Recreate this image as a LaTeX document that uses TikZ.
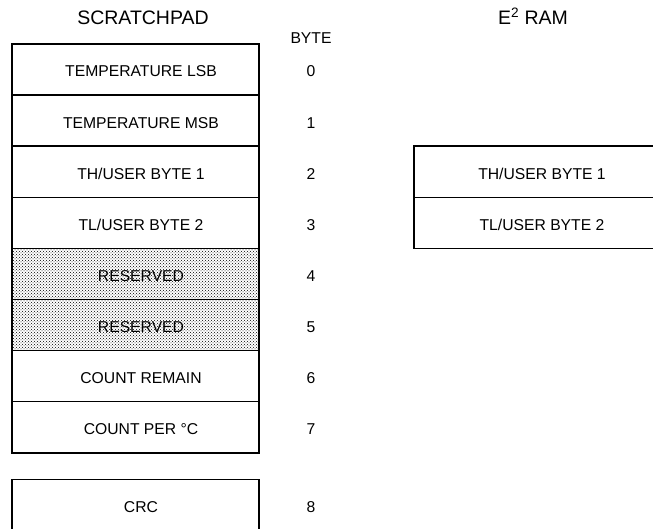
\documentclass[tikz,border=0pt]{standalone}
\usepackage{fontspec}
\setmainfont{Liberation Sans}
\usetikzlibrary{patterns}
\tikzset{
  cell/.style={draw=black, line width=1.4pt, minimum width=247pt, minimum height=51.1pt, inner sep=0pt, outer sep=0pt, anchor=north west},
  shaded/.style={cell, pattern=crosshatch dots, pattern color=black},
  lbl/.style={font=\fontsize{15.7}{18}\selectfont, anchor=base, inner sep=0pt},
  ttl/.style={font=\fontsize{19.5}{22}\selectfont, anchor=base, inner sep=0pt},
}
\begin{document}
\begin{tikzpicture}[x=1pt,y=-1pt]
\useasboundingbox (0,0) rectangle (653,529);
\clip (0,0) rectangle (653,529);
% titles
\node[ttl] (tsp) at (143,25) {SCRATCHPAD};
\node[ttl] (tee) at (533,25) {E\textsuperscript{2} RAM};
\node[lbl] (tby) at (311,43.3) {BYTE};
% scratchpad cells
\node[cell]   (r0) at (12,44.0)  {};
\node[cell]   (r1) at (12,95.1)  {};
\node[cell]   (r2) at (12,146.2) {};
\node[cell]   (r3) at (12,197.3) {};
\node[shaded] (r4) at (12,248.4) {};
\node[shaded] (r5) at (12,299.5) {};
\node[cell]   (r6) at (12,350.6) {};
\node[cell]   (r7) at (12,401.7) {};
\node[cell]   (r8) at (12,479.5) {};
% labels
\node[lbl] (l0) at (141,77.0)  {TEMPERATURE LSB};
\node[lbl] (l1) at (141,128.1) {TEMPERATURE MSB};
\node[lbl] (l2) at (141,179.2) {TH/USER BYTE 1};
\node[lbl] (l3) at (141,230.3) {TL/USER BYTE 2};
\node[lbl] (l4) at (141,281.4) {RESERVED};
\node[lbl] (l5) at (141,332.5) {RESERVED};
\node[lbl] (l6) at (141,383.6) {COUNT REMAIN};
\node[lbl] (l7) at (141,434.7) {COUNT PER °C};
\node[lbl] (l8) at (141,512.5) {CRC};
% byte numbers
\node[lbl] (n0) at (311,77.0)  {0};
\node[lbl] (n1) at (311,128.1) {1};
\node[lbl] (n2) at (311,179.2) {2};
\node[lbl] (n3) at (311,230.3) {3};
\node[lbl] (n4) at (311,281.4) {4};
\node[lbl] (n5) at (311,332.5) {5};
\node[lbl] (n6) at (311,383.6) {6};
\node[lbl] (n7) at (311,434.7) {7};
\node[lbl] (n8) at (311,512.5) {8};
% E2 RAM cells
\node[cell] (e1) at (414,146.2) {};
\node[cell] (e2) at (414,197.3) {};
\node[lbl] (le1) at (542,179.2) {TH/USER BYTE 1};
\node[lbl] (le2) at (542,230.3) {TL/USER BYTE 2};
\end{tikzpicture}
\end{document}
